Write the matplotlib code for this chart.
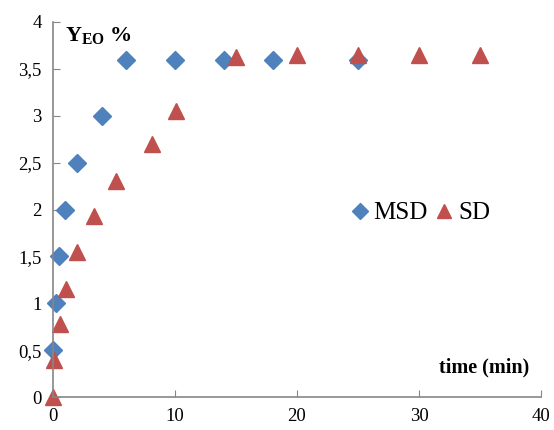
import matplotlib
matplotlib.use("Agg")
import matplotlib.pyplot as plt

plt.rcParams["font.family"] = ["Liberation Serif", "DejaVu Serif"]
plt.rcParams["mathtext.fontset"] = "custom"
plt.rcParams["mathtext.rm"] = "Liberation Serif"
plt.rcParams["mathtext.bf"] = "Liberation Serif:bold"

msd_time = [0, 0.25, 0.5, 1, 2, 4, 6, 10, 14, 18, 25]
msd_yield = [0.5, 1.0, 1.5, 2.0, 2.5, 3.0, 3.6, 3.6, 3.6, 3.6, 3.6]

sd_time = [0, 0.08, 0.55, 1.1, 1.95, 3.35, 5.15, 8.1, 10.1, 15, 20, 25, 30, 35]
sd_yield = [0, 0.4, 0.78, 1.15, 1.55, 1.93, 2.3, 2.7, 3.05, 3.63, 3.65, 3.65, 3.65, 3.65]

x_ticks = [0, 10, 20, 30, 40]
y_ticks = [0, 0.5, 1, 1.5, 2, 2.5, 3, 3.5, 4]
y_labels = ["0", "0,5", "1", "1,5", "2", "2,5", "3", "3,5", "4"]

fig = plt.figure(figsize=(5.54, 4.30), dpi=100)
ax = fig.add_axes([53/554, 1 - 397/430, 488/554, 375/430])

ax.plot(msd_time, msd_yield, linestyle="none", marker="D", markersize=9,
        color="#4F81BD", label="MSD", clip_on=False)
ax.plot(sd_time, sd_yield, linestyle="none", marker="^", markersize=11,
        color="#C0504D", label="SD", clip_on=False)

ax.set_xlim(0, 40)
ax.set_ylim(0, 4)
ax.set_xticks(x_ticks)
ax.set_yticks(y_ticks)
ax.set_yticklabels(y_labels)
ax.tick_params(direction="in", length=5, color="#868686", labelsize=13.5, pad=8)

for side in ["top", "right"]:
    ax.spines[side].set_visible(False)
for side in ["left", "bottom"]:
    ax.spines[side].set_color("#868686")
    ax.spines[side].set_linewidth(1.2)

ax.text(0.025, 0.99, r"Y$_{\mathbf{EO}}$ %", transform=ax.transAxes,
        fontsize=16, fontweight="bold", va="top", ha="left")
ax.text(0.975, 0.08, "time (min)", transform=ax.transAxes,
        fontsize=14.5, fontweight="bold", ha="right", va="center")

ax.legend(loc="center left", bbox_to_anchor=(0.57, 0.49), ncol=2, frameon=False,
          fontsize=18, handlelength=0.5, handletextpad=0.3, columnspacing=0.4,
          markerscale=0.9)

fig.savefig("out.png", dpi=100)
